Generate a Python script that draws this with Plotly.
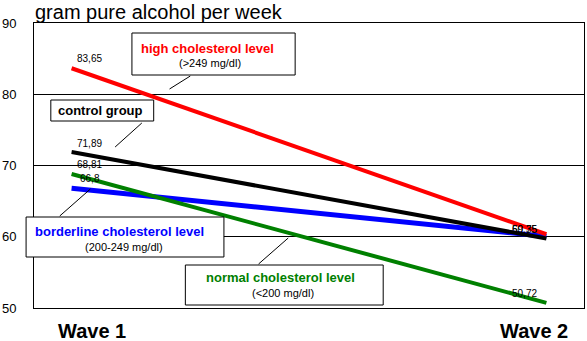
import plotly.graph_objects as go

# ---- data ----
waves = ["Wave 1", "Wave 2"]
wave_x = [0, 1]
high = [83.65, 60.35]
control = [71.89, 59.75]
borderline = [66.8, 60.05]
normal = [68.81, 50.72]
y_ticks = [50, 60, 70, 80, 90]
title_text = "gram pure alcohol per week"

FONT = "Arial, Liberation Sans, sans-serif"

# plot-area pixel geometry (for placing boxes in paper coords)
L, R, T, B = 29, 585, 23, 308
def px(p):
    return (p - L) / (R - L)
def py(p):
    return (B - p) / (B - T)

fig = go.Figure()

series = [
    ("borderline", borderline, "#0000FF", 5),
    ("control", control, "#000000", 4),
    ("normal", normal, "#008000", 4),
    ("high", high, "#FF0000", 4),
]
for name, vals, col, w in series:
    fig.add_trace(go.Scatter(x=wave_x, y=vals, mode="lines", name=name,
                             line=dict(color=col, width=w), hoverinfo="skip"))

def fmt(v):
    return f"{v:g}".replace(".", ",")

annotations = []
# data labels at wave 1
for vals, dy in [(high, 10), (control, 9), (normal, 9), (borderline, 10)]:
    annotations.append(dict(x=wave_x[0], y=vals[0], xref="x", yref="y", text=fmt(vals[0]),
                            showarrow=False, xshift=18, yshift=dy, xanchor="center", yanchor="middle",
                            font=dict(family=FONT, size=10, color="black")))
# data labels at wave 2
for vals, dy in [(high, 5), (control, 9), (normal, 9)]:
    annotations.append(dict(x=wave_x[1], y=vals[1], xref="x", yref="y", text=fmt(vals[1]),
                            showarrow=False, xshift=-22, yshift=dy, xanchor="center", yanchor="middle",
                            font=dict(family=FONT, size=10, color="black")))

# title
annotations.append(dict(x=px(28), y=py(12), xref="paper", yref="paper", text=title_text,
                        showarrow=False, xanchor="left", yanchor="middle",
                        font=dict(family=FONT, size=20, color="black")))
# wave labels
for wx, wt in [(88, waves[0]), (534, waves[1])]:
    annotations.append(dict(x=px(wx), y=py(331), xref="paper", yref="paper", text=f"<b>{wt}</b>",
                            showarrow=False, xanchor="center", yanchor="middle",
                            font=dict(family=FONT, size=20, color="black")))

shapes = []
boxes = [
    # (x0,y0,x1,y1, line1, color1, cx1, cy1, line2, cx2, cy2, leader)
    (128, 33, 293, 75, "high cholesterol level", "#FF0000", 204, 48, "(>249 mg/dl)", 207, 63,
     (166, 89, 187, 76)),
    (46, 100, 150, 121, "control group", "#000000", 96, 111, None, 0, 0,
     (111, 147, 138, 123)),
    (21, 217, 221, 257, "borderline cholesterol level", "#0000FF", 115, 231, "(200-249 mg/dl)", 120, 247,
     (55, 216, 86, 189)),
    (182, 265, 382, 305, "normal cholesterol level", "#008000", 278, 277, "(<200 mg/dl)", 281, 293,
     (256, 264, 286, 238)),
]
for (x0, y0, x1, y1, t1, c1, cx1, cy1, t2, cx2, cy2, ld) in boxes:
    shapes.append(dict(type="line", xref="paper", yref="paper",
                       x0=px(ld[0]), y0=py(ld[1]), x1=px(ld[2]), y1=py(ld[3]),
                       line=dict(color="black", width=1), layer="above"))
    shapes.append(dict(type="rect", xref="paper", yref="paper",
                       x0=px(x0), y0=py(y0), x1=px(x1), y1=py(y1),
                       line=dict(color="black", width=1), fillcolor="white", layer="above"))
    annotations.append(dict(x=px(cx1), y=py(cy1), xref="paper", yref="paper", text=f"<b>{t1}</b>",
                            showarrow=False, xanchor="center", yanchor="middle",
                            font=dict(family=FONT, size=13, color=c1)))
    if t2:
        annotations.append(dict(x=px(cx2), y=py(cy2), xref="paper", yref="paper", text=t2,
                                showarrow=False, xanchor="center", yanchor="middle",
                                font=dict(family=FONT, size=11, color="black")))

x_pad = (67 - L) / (547 - 67)
fig.update_layout(
    width=587, height=341,
    margin=dict(l=L, r=587 - R, t=T, b=341 - B),
    paper_bgcolor="white", plot_bgcolor="white",
    showlegend=False,
    xaxis=dict(range=[-x_pad, 1 + x_pad], showgrid=False, zeroline=False, showticklabels=False,
               showline=True, mirror=True, linecolor="black", linewidth=1, ticks=""),
    yaxis=dict(range=[50, 90], tickvals=y_ticks, showgrid=True, gridcolor="black", gridwidth=1,
               zeroline=False, showline=True, mirror=True, linecolor="black", linewidth=1,
               ticks="", ticklabelstandoff=14,
               tickfont=dict(family=FONT, size=13, color="black")),
    shapes=shapes,
    annotations=annotations,
)

fig.write_html("out.html")
